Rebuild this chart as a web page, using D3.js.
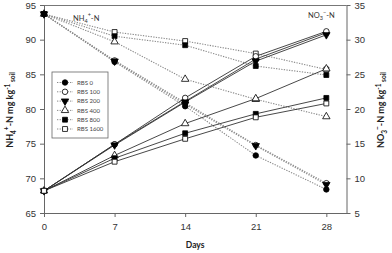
<!DOCTYPE html>
<html>
<head>
<meta charset="UTF-8">
<style>
  body { margin: 0; background: #fff; }
  svg { display: block; font-family: Lato, 'Open Sans', sans-serif; }
</style>
<script src="https://d3js.org/d3.v7.min.js"></script>
</head>
<body>
<svg id="chart" width="392" height="253"></svg>
<script>
// sampling days
const days = [0, 7, 14, 21, 28];
const treatments = ["RBS 0", "RBS 100", "RBS 200", "RBS 400", "RBS 800", "RBS 1600"];

// NH4+-N, mg/kg soil (left axis, dotted)
const nh4_0    = [93.7, 86.8, 80.4, 73.3, 68.4];
const nh4_100  = [93.7, 87.0, 80.9, 74.8, 69.3];
const nh4_200  = [93.7, 86.9, 80.7, 74.7, 69.1];
const nh4_400  = [93.7, 89.7, 84.3, 81.4, 78.9];
const nh4_800  = [93.7, 90.5, 89.2, 86.2, 84.9];
const nh4_1600 = [93.7, 91.1, 89.8, 88.0, 85.7];

// NO3--N, mg/kg soil (right axis, solid)
const no3_0    = [8.2, 14.9, 21.1, 27.2, 31.0];
const no3_100  = [8.2, 14.9, 21.6, 27.6, 31.2];
const no3_200  = [8.2, 14.8, 21.0, 26.9, 30.7];
const no3_400  = [8.2, 13.3, 17.9, 21.5, 25.8];
const no3_800  = [8.2, 12.9, 16.5, 19.3, 21.6];
const no3_1600 = [8.2, 12.4, 15.7, 18.8, 20.8];

const leftTicks = [65, 70, 75, 80, 85, 90, 95];
const rightTicks = [5, 10, 15, 20, 25, 30, 35];

const nh4 = [nh4_0, nh4_100, nh4_200, nh4_400, nh4_800, nh4_1600];
const no3 = [no3_0, no3_100, no3_200, no3_400, no3_800, no3_1600];

// marker per treatment
const symbols = [
  { type: d3.symbolCircle, fill: "#000" },
  { type: d3.symbolCircle, fill: "#fff" },
  { type: d3.symbolTriangle, fill: "#000", flip: true },
  { type: d3.symbolTriangle, fill: "#fff" },
  { type: d3.symbolSquare, fill: "#000" },
  { type: d3.symbolSquare, fill: "#fff" }
];

const svg = d3.select("#chart");
const mLeft = 44, mRight = 346.5, mTop = 5, mBottom = 213;

const x = d3.scaleLinear().domain([0, 30]).range([mLeft, mRight]);
const yL = d3.scaleLinear().domain([65, 95]).range([mBottom, mTop]);
const yR = d3.scaleLinear().domain([5, 35]).range([mBottom, mTop]);

// frame
svg.append("line").attr("x1", mLeft).attr("x2", mRight).attr("y1", mTop + 0.5).attr("y2", mTop + 0.5)
  .attr("stroke", "#777").attr("stroke-width", 1);

function styleAxis(g) {
  g.select(".domain").attr("stroke", "#666");
  g.selectAll(".tick line").attr("stroke", "#666");
  g.selectAll(".tick text").attr("fill", "#333").attr("font-size", 9.5);
}

svg.append("g").attr("transform", `translate(${mLeft},0)`)
  .call(d3.axisLeft(yL).tickValues(leftTicks).tickSize(4).tickSizeOuter(0).tickPadding(4))
  .call(styleAxis);

svg.append("g").attr("transform", `translate(${mRight},0)`)
  .call(d3.axisRight(yR).tickValues(rightTicks).tickSize(4).tickSizeOuter(0).tickPadding(4))
  .call(styleAxis);

svg.append("g").attr("transform", `translate(0,${mBottom})`)
  .call(d3.axisBottom(x).tickValues(days).tickSize(4).tickSizeOuter(0).tickPadding(6))
  .call(styleAxis);

const sym = d3.symbol().size(24);

function drawSeries(vals, yScale, dotted) {
  const pts = days.map((d, k) => [x(d), yScale(vals[k])]);
  svg.append("path")
    .attr("d", d3.line()(pts))
    .attr("fill", "none")
    .attr("stroke", dotted ? "#8a8a8a" : "#333")
    .attr("stroke-width", dotted ? 1.1 : 0.9)
    .attr("stroke-dasharray", dotted ? "1.3,1.3" : null);
}

function drawMarkers(vals, yScale, i) {
  const s = symbols[i];
  days.forEach((d, k) => {
    svg.append("path")
      .attr("d", sym.type(s.type)())
      .attr("transform", `translate(${x(d)},${yScale(vals[k])})${s.flip ? " rotate(180)" : ""}`)
      .attr("fill", s.fill)
      .attr("stroke", "#000")
      .attr("stroke-width", 0.8);
  });
}

nh4.forEach(v => drawSeries(v, yL, true));
no3.forEach(v => drawSeries(v, yR, false));
// ammonium markers: filled ones last so they sit on top
[5, 4, 3, 1, 2, 0].forEach(i => drawMarkers(nh4[i], yL, i));
no3.forEach((v, i) => drawMarkers(v, yR, i));

// legend
const lg = svg.append("g");
lg.append("rect").attr("x", 52).attr("y", 72).attr("width", 56).attr("height", 66)
  .attr("fill", "#fff").attr("stroke", "#666").attr("stroke-width", 0.8);
treatments.forEach((t, i) => {
  const ly = 82.5 + i * 9.3;
  lg.append("line").attr("x1", 57).attr("x2", 73).attr("y1", ly).attr("y2", ly)
    .attr("stroke", "#8a8a8a").attr("stroke-dasharray", "1.3,1.3");
  const s = symbols[i];
  lg.append("path").attr("d", sym.type(s.type)())
    .attr("transform", `translate(65,${ly})${s.flip ? " rotate(180)" : ""}`)
    .attr("fill", s.fill).attr("stroke", "#000").attr("stroke-width", 0.8);
  lg.append("text").attr("x", 77).attr("y", ly + 2.2).attr("font-size", 6).attr("fill", "#444").text(t);
});

// annotations
const a1 = svg.append("text").attr("x", 73).attr("y", 21).attr("font-size", 7.5).attr("fill", "#333");
a1.append("tspan").text("NH");
a1.append("tspan").attr("font-size", 5.5).attr("dy", 2).text("4");
a1.append("tspan").attr("font-size", 5.5).attr("dy", -6).text("+");
a1.append("tspan").attr("dy", 4).text("-N");

const a2 = svg.append("text").attr("x", 308).attr("y", 18).attr("font-size", 7.5).attr("fill", "#333");
a2.append("tspan").text("NO");
a2.append("tspan").attr("font-size", 5.5).attr("dy", 2).text("3");
a2.append("tspan").attr("font-size", 5.5).attr("dy", -6).text("−");
a2.append("tspan").attr("dy", 4).text("-N");

// axis titles
svg.append("text").attr("x", x(14) + 10).attr("y", 248).attr("text-anchor", "middle")
  .attr("font-size", 8.5).attr("font-weight", "bold").attr("fill", "#222").text("Days");

const tl = svg.append("text").attr("transform", "translate(13,110) rotate(-90)")
  .attr("text-anchor", "middle").attr("font-size", 9).attr("font-weight", "bold").attr("fill", "#222");
tl.append("tspan").text("NH");
tl.append("tspan").attr("font-size", 6.5).attr("dy", 2.5).text("4");
tl.append("tspan").attr("font-size", 6.5).attr("dy", -7).text("+");
tl.append("tspan").attr("dy", 4.5).text("-N mg kg");
tl.append("tspan").attr("font-size", 6.5).attr("dy", -3.5).text("-1");
tl.append("tspan").attr("font-size", 6.5).attr("dy", 5.5).text(" soil");

const tr = svg.append("text").attr("transform", "translate(384,110) rotate(-90)")
  .attr("text-anchor", "middle").attr("font-size", 9).attr("font-weight", "bold").attr("fill", "#222");
tr.append("tspan").text("NO");
tr.append("tspan").attr("font-size", 6.5).attr("dy", 2.5).text("3");
tr.append("tspan").attr("font-size", 6.5).attr("dy", -7).text("−");
tr.append("tspan").attr("dy", 4.5).text("-N mg kg");
tr.append("tspan").attr("font-size", 6.5).attr("dy", -3.5).text("-1");
tr.append("tspan").attr("font-size", 6.5).attr("dy", 5.5).text(" soil");
</script>
</body>
</html>
